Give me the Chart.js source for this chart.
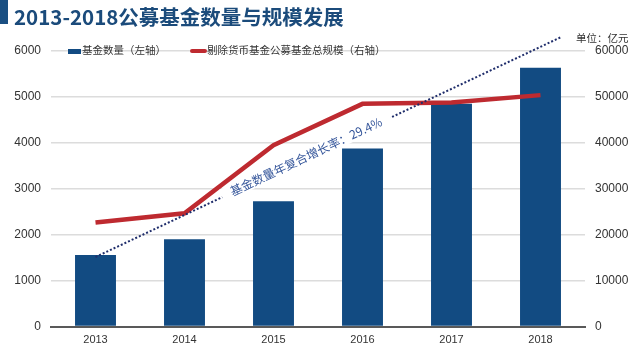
<!DOCTYPE html>
<html>
<head>
<meta charset="utf-8">
<script src="https://cdn.jsdelivr.net/npm/chart.js@4/dist/chart.umd.min.js"></script>
<style>
  body { margin: 0; background: #fff; }
  #wrap { position: relative; width: 640px; height: 360px; font-family: "Liberation Sans", "Noto Sans CJK SC", sans-serif; }
  #chart { position: absolute; left: 0; top: 0; }
  .bar-mark { position: absolute; left: 0; top: 0; width: 8px; height: 24px; background: #1a4f82; }
  .title { position: absolute; left: 14px; top: 1px; font: bold 20.5px "Noto Sans CJK SC", sans-serif; color: #1b4b7b; white-space: nowrap; }
  .legend { position: absolute; top: 43px; font: 10.5px "Noto Sans CJK SC", sans-serif; color: #333; white-space: nowrap; line-height: 14px; }
  .sw-bar { display: inline-block; width: 13px; height: 5px; background: #124b82; vertical-align: middle; margin-right: 1px; }
  .sw-line { display: inline-block; width: 17px; height: 4px; border-radius: 2px; background: #be2a30; vertical-align: middle; }
  .unit { position: absolute; left: 576px; top: 30px; font: 10.5px "Noto Sans CJK SC", sans-serif; color: #333; white-space: nowrap; }
</style>
</head>
<body>
<div id="wrap">
  <canvas id="chart" width="640" height="360"></canvas>
  <div class="bar-mark"></div>
  <div class="title">2013-2018公募基金数量与规模发展</div>
  <div class="legend" style="left:68px"><span class="sw-bar"></span>基金数量（左轴）</div>
  <div class="legend" style="left:190px"><span class="sw-line"></span>剔除货币基金公募基金总规模（右轴）</div>
  <div class="unit">单位：亿元</div>
</div>
<script>
  // Data
  const years = ['2013', '2014', '2015', '2016', '2017', '2018'];
  const fundCount = [1552, 1897, 2722, 3867, 4841, 5626];          // left axis
  const fundScale = [22600, 24600, 39400, 48400, 48700, 50300];    // right axis, 亿元
  const trendYears = ['2013', '2018'];
  const trendValues = [1510, 6080];                                 // dotted CAGR line, left axis
  const trendLabel = '基金数量年复合增长率：29.4%';
  const leftTicks = [0, 1000, 2000, 3000, 4000, 5000, 6000];
  const rightTicks = [0, 10000, 20000, 30000, 40000, 50000, 60000];

  const FONT = '"Liberation Sans", "Noto Sans CJK SC", sans-serif';

  // Dotted trend line with a text label sitting on it
  const trendPlugin = {
    id: 'trend',
    afterDatasetsDraw(chart) {
      const x = chart.scales.x, y = chart.scales.y;
      const ctx = chart.ctx;
      const x0 = x.getPixelForValue(years.indexOf(trendYears[0]));
      const y0 = y.getPixelForValue(trendValues[0]);
      const x1 = x.getPixelForValue(years.indexOf(trendYears[1]));
      const y1 = y.getPixelForValue(trendValues[1]);
      const ext = 0.045; // line runs a little past the last year
      const ex = x1 + (x1 - x0) * ext, ey = y1 + (y1 - y0) * ext;

      ctx.save();
      ctx.strokeStyle = '#1f2d6b';
      ctx.lineWidth = 2;
      ctx.setLineDash([2, 2]);
      ctx.beginPath();
      ctx.moveTo(x0, y0);
      ctx.lineTo(ex, ey);
      ctx.stroke();

      // label centred on the line
      const t = 0.474;
      const cx = x0 + (x1 - x0) * t, cy = y0 + (y1 - y0) * t;
      const ang = Math.atan2(y1 - y0, x1 - x0);
      ctx.translate(cx, cy);
      ctx.rotate(ang);
      ctx.setLineDash([]);
      ctx.font = '12px "Noto Sans CJK SC", sans-serif';
      const w = ctx.measureText(trendLabel).width;
      ctx.fillStyle = '#fff';
      ctx.fillRect(-w / 2 - 10, -8, w + 20, 14);
      ctx.fillStyle = '#34559a';
      ctx.textAlign = 'center';
      ctx.textBaseline = 'middle';
      ctx.fillText(trendLabel, 0, -1);
      ctx.restore();
    }
  };

  new Chart(document.getElementById('chart'), {
    data: {
      labels: years,
      datasets: [
        {
          type: 'line',
          label: '剔除货币基金公募基金总规模（右轴）',
          data: fundScale,
          yAxisID: 'y1',
          borderColor: '#be2a30',
          borderWidth: 4.5,
          pointRadius: 0,
          tension: 0,
          order: 0
        },
        {
          type: 'bar',
          label: '基金数量（左轴）',
          data: fundCount,
          yAxisID: 'y',
          backgroundColor: '#124b82',
          categoryPercentage: 1,
          barPercentage: 0.46,
          order: 1
        }
      ]
    },
    options: {
      responsive: false,
      animation: false,
      devicePixelRatio: 1,
      layout: { padding: { top: 50.5, left: 0, right: 0, bottom: 0 } },
      plugins: {
        legend: { display: false },
        tooltip: { enabled: false }
      },
      scales: {
        x: {
          grid: { display: false, drawTicks: false },
          border: { color: '#595959', width: 2 },
          ticks: { color: '#333', font: { family: FONT, size: 11 }, padding: 7 },
          afterFit(s) { s.height = 33.5; }
        },
        y: {
          position: 'left',
          min: 0, max: 6000,
          afterBuildTicks(s) { s.ticks = leftTicks.map(v => ({ value: v })); },
          grid: { color: '#dcdcdc', lineWidth: 1.5, drawTicks: false },
          border: { display: false },
          ticks: { color: '#333', font: { family: FONT, size: 12 }, padding: 10, callback: v => String(v) },
          afterFit(s) { s.width = 51; }
        },
        y1: {
          position: 'right',
          min: 0, max: 60000,
          afterBuildTicks(s) { s.ticks = rightTicks.map(v => ({ value: v })); },
          grid: { display: false, drawTicks: false },
          border: { display: false },
          ticks: { color: '#333', font: { family: FONT, size: 12 }, padding: 10, callback: v => String(v) },
          afterFit(s) { s.width = 55; }
        }
      }
    },
    plugins: [trendPlugin]
  });
</script>
</body>
</html>
